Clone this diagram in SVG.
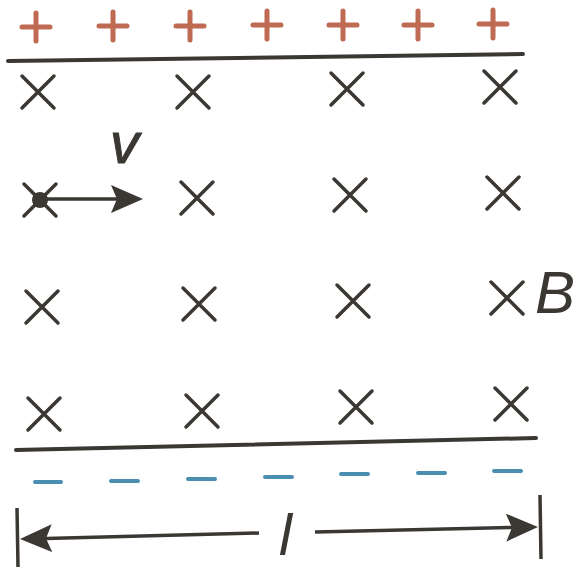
<svg xmlns="http://www.w3.org/2000/svg" width="579" height="569" viewBox="0 0 579 569">
<style>
.plate{stroke:#3b3733;stroke-width:4;stroke-linecap:round;fill:none}
.plus{stroke:#bf6a52;stroke-width:5;stroke-linecap:round;fill:none}
.minus{stroke:#4a8fb0;stroke-width:4;stroke-linecap:round;fill:none}
.cross{stroke:#3b3733;stroke-width:3.5;stroke-linecap:round;fill:none}
.arr{stroke:#3b3733;stroke-width:3.5;fill:none}
.lbl{font-family:"Liberation Sans",Arial,sans-serif;font-style:italic;fill:#3b3733}
</style>
<defs>
<g id="x"><path d="M-16,-16L16,16M16,-16L-16,16"/></g>
<g id="p"><path d="M-14,0H14M0,-14V14"/></g>
<marker id="head" markerUnits="userSpaceOnUse" viewBox="0 0 32 28" refX="6" refY="14" markerWidth="32" markerHeight="28" orient="auto">
<path d="M0,0L32,14L0,28L6,14Z" fill="#3b3733"/>
</marker>
</defs>
<g id="positive-plate">
<g class="plus">
<use href="#p" x="36" y="27"/><use href="#p" x="113" y="26"/><use href="#p" x="190" y="26"/><use href="#p" x="267" y="25"/><use href="#p" x="343" y="25"/><use href="#p" x="418" y="25"/><use href="#p" x="493" y="24"/>
</g>
<line class="plate" x1="8" y1="61" x2="523" y2="54"/>
</g>
<g id="field" class="cross">
<use href="#x" x="38" y="92"/><use href="#x" x="193" y="92"/><use href="#x" x="347" y="89"/><use href="#x" x="500" y="87"/>
<use href="#x" x="40" y="200"/><use href="#x" x="197" y="198"/><use href="#x" x="350" y="195"/><use href="#x" x="503" y="193"/>
<use href="#x" x="42" y="307"/><use href="#x" x="199" y="304"/><use href="#x" x="353" y="301"/><use href="#x" x="507" y="298"/>
<use href="#x" x="44" y="414"/><use href="#x" x="202" y="411"/><use href="#x" x="356" y="407"/><use href="#x" x="511" y="404"/>
</g>
<g id="B-label"><text class="lbl" x="535" y="313" font-size="60">B</text></g>
<g id="charge">
<circle cx="40" cy="200" r="8" fill="#3b3733"/>
<text class="lbl" x="110" y="163" font-size="58" stroke="#3b3733" stroke-width="1">v</text>
</g>
<g id="negative-plate">
<line class="plate" x1="16" y1="450" x2="536" y2="438"/>
<g class="minus">
<path d="M35,482H61M111,481H138M188,479H215M265,477H292M341,474H368M418,473H445M494,471H521"/>
</g>
</g>
<g id="dimension">
<line class="arr" x1="17" y1="508" x2="18" y2="567"/>
<line class="arr" x1="540" y1="495" x2="541" y2="559"/>
<text class="lbl" x="279" y="555" font-size="58">l</text>
</g>
<g id="connectors">
<line class="arr" x1="40" y1="199" x2="117" y2="199" marker-end="url(#head)"/>
<line class="arr" x1="259" y1="533" x2="46" y2="538.4" marker-end="url(#head)"/>
<line class="arr" x1="315" y1="532" x2="512" y2="527.5" marker-end="url(#head)"/>
</g>
</svg>
